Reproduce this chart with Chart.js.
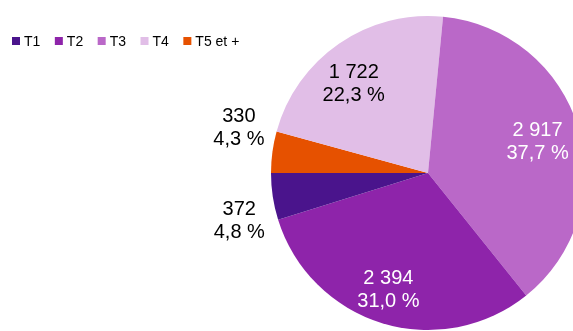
<!DOCTYPE html>
<html>
<head>
<meta charset="utf-8">
<title>Répartition par taille de logement</title>
<script src="https://cdn.jsdelivr.net/npm/chart.js@4.4.1/dist/chart.umd.min.js"></script>
<style>
  html, body { margin: 0; padding: 0; background: #ffffff; overflow: hidden; }
  #wrap { position: relative; width: 573px; height: 331px; overflow: hidden; }
  #c { position: absolute; left: 0; top: 0; }
</style>
</head>
<body>
<div id="wrap"><canvas id="c" width="600" height="331"></canvas></div>
<script>
// Categories, counts and colours, in legend order
const categories = ['T1', 'T2', 'T3', 'T4', 'T5 et +'];
const counts = [372, 2394, 2917, 1722, 330];
const colors = ['#4a148c', '#8e24aa', '#ba68c8', '#e1bee7', '#e65100'];
const labelColors = ['#000000', '#ffffff', '#ffffff', '#000000', '#000000'];
// Small slices get their label outside the pie
const outsideLabel = [true, false, false, false, true];
// Small pixel nudges for the labels drawn inside slices
const labelNudge = [[0, 0], [-5, 4], [-4, 3], [-7, 9], [0, 0]];

const FONT = '"Liberation Sans", Arial, sans-serif';
const total = counts.reduce((a, b) => a + b, 0);

function fmtCount(v) {
  return String(v).replace(/\B(?=(\d{3})+(?!\d))/g, ' ');
}
function fmtPct(v) {
  return (v / total * 100).toFixed(1).replace('.', ',') + ' %';
}

// Slices are drawn clockwise from 9 o'clock, so feed them in reverse order
const order = categories.map((_, i) => i).reverse();

const sliceLabels = {
  id: 'sliceLabels',
  afterDatasetsDraw(chart) {
    const ctx = chart.ctx;
    const meta = chart.getDatasetMeta(0);
    ctx.save();
    ctx.font = '20px ' + FONT;
    ctx.textAlign = 'center';
    ctx.textBaseline = 'middle';
    const lineH = 23;
    meta.data.forEach((arc, j) => {
      const i = order[j];
      const p = arc.getProps(['x', 'y', 'startAngle', 'endAngle', 'outerRadius'], true);
      const mid = (p.startAngle + p.endAngle) / 2;
      const dx = Math.cos(mid), dy = Math.sin(mid);
      const l1 = fmtCount(counts[i]);
      const l2 = fmtPct(counts[i]);
      let cx, cy;
      if (outsideLabel[i]) {
        const w = Math.max(ctx.measureText(l1).width, ctx.measureText(l2).width);
        const h = lineH * 2;
        const ax = p.x + (p.outerRadius + 8) * dx;
        const ay = p.y + (p.outerRadius + 8) * dy;
        cx = dx < 0 ? ax - w / 2 : ax + w / 2;
        cy = dy < 0 ? ay - h / 2 : ay + h / 2;
      } else {
        cx = p.x + p.outerRadius * 0.755 * dx + labelNudge[i][0];
        cy = p.y + p.outerRadius * 0.755 * dy + labelNudge[i][1];
      }
      ctx.fillStyle = labelColors[i];
      ctx.fillText(l1, cx, cy - lineH / 2);
      ctx.fillText(l2, cx, cy + lineH / 2);
    });
    ctx.restore();
  }
};

const rowLegend = {
  id: 'rowLegend',
  afterDraw(chart) {
    const ctx = chart.ctx;
    ctx.save();
    ctx.font = '14px ' + FONT;
    ctx.textBaseline = 'middle';
    ctx.textAlign = 'left';
    let x = 12;
    const y = 41;
    categories.forEach((name, i) => {
      ctx.fillStyle = colors[i];
      ctx.fillRect(x, y - 4, 8, 8);
      ctx.fillStyle = '#000000';
      ctx.fillText(name, x + 12, y + 1);
      x += 12 + ctx.measureText(name).width + 14.5;
    });
    ctx.restore();
  }
};

new Chart(document.getElementById('c'), {
  type: 'pie',
  data: {
    labels: order.map(i => categories[i]),
    datasets: [{
      data: order.map(i => counts[i]),
      backgroundColor: order.map(i => colors[i]),
      borderWidth: 0
    }]
  },
  options: {
    responsive: false,
    animation: false,
    rotation: -90,
    layout: { padding: { left: 271, top: 16, right: 15, bottom: 1 } },
    plugins: {
      legend: { display: false },
      tooltip: { enabled: false }
    }
  },
  plugins: [sliceLabels, rowLegend]
});
</script>
</body>
</html>
